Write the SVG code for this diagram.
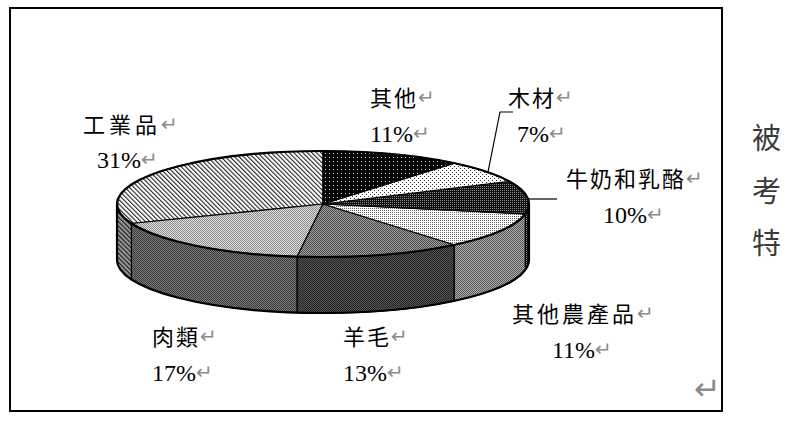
<svg xmlns="http://www.w3.org/2000/svg" width="797" height="422" viewBox="0 0 797 422">
<style>
.lbl{font-family:"Liberation Serif","Noto Sans CJK TC",serif;font-size:22px;fill:#000}
.num{font-family:"Liberation Serif","Noto Sans CJK TC",serif;font-size:24px;fill:#000}
.ret{font-family:"DejaVu Sans",sans-serif;font-size:20px;fill:#8a8a8a}
.top{stroke:#000;stroke-width:1.2;stroke-linejoin:round}
.side{stroke:#000;stroke-width:1.2;stroke-linejoin:round}
.lead{fill:none;stroke:#000;stroke-width:1.2}
.vert{font-family:"Noto Sans CJK TC","Noto Sans CJK JP",sans-serif;font-size:29px;fill:#3a3a3a}
</style>
<defs>
<pattern id="pOther" width="4" height="4" patternUnits="userSpaceOnUse"><rect width="4" height="4" fill="#050505"/><rect x="1" y="1" width="1" height="1" fill="#ddd"/></pattern>
<pattern id="pWood" width="4" height="4" patternUnits="userSpaceOnUse"><rect width="4" height="4" fill="#fff"/><rect x="0" y="0" width="1" height="1" fill="#333"/><rect x="2" y="2" width="1" height="1" fill="#333"/></pattern>
<pattern id="pMilk" width="2" height="2" patternUnits="userSpaceOnUse"><rect width="2" height="2" fill="#111"/><rect x="0" y="0" width="1" height="1" fill="#888"/></pattern>
<pattern id="pAgri" width="2" height="2" patternUnits="userSpaceOnUse"><rect width="2" height="2" fill="#fff"/><rect x="0" y="0" width="1" height="1" fill="#666"/></pattern>
<pattern id="pAgriS" width="2" height="2" patternUnits="userSpaceOnUse"><rect width="2" height="2" fill="#b0b0b0"/><rect x="0" y="0" width="1" height="1" fill="#555"/><rect x="1" y="1" width="1" height="1" fill="#555"/></pattern>
<pattern id="pWool" width="2" height="2" patternUnits="userSpaceOnUse"><rect width="2" height="2" fill="#a0a0a0"/><rect x="0" y="0" width="1" height="1" fill="#4a4a4a"/><rect x="1" y="1" width="1" height="1" fill="#4a4a4a"/></pattern>
<pattern id="pWoolS" width="2" height="2" patternUnits="userSpaceOnUse"><rect width="2" height="2" fill="#555"/><rect x="0" y="0" width="1" height="1" fill="#222"/><rect x="1" y="1" width="1" height="1" fill="#222"/></pattern>
<pattern id="pMeat" width="2" height="2" patternUnits="userSpaceOnUse"><rect width="2" height="2" fill="#e0e0e0"/><rect x="0" y="0" width="1" height="1" fill="#8a8a8a"/><rect x="1" y="1" width="1" height="1" fill="#8a8a8a"/></pattern>
<pattern id="pMeatS" width="2" height="2" patternUnits="userSpaceOnUse"><rect width="2" height="2" fill="#7a7a7a"/><rect x="0" y="0" width="1" height="1" fill="#3a3a3a"/><rect x="1" y="1" width="1" height="1" fill="#3a3a3a"/></pattern>
<pattern id="pInd" width="3.2" height="3.2" patternUnits="userSpaceOnUse" patternTransform="rotate(-45)"><rect width="3.2" height="3.2" fill="#fff"/><rect width="1.1" height="3.2" fill="#222"/></pattern>
<pattern id="pIndS" width="3.2" height="3.2" patternUnits="userSpaceOnUse" patternTransform="rotate(-45)"><rect width="3.2" height="3.2" fill="#999"/><rect width="1.2" height="3.2" fill="#222"/></pattern>
</defs>
<rect x="0" y="0" width="797" height="422" fill="#fff"/>
<rect x="10" y="8" width="712" height="403" fill="none" stroke="#000" stroke-width="2"/>

<g id="slice-industry">
<path class="side" fill="url(#pIndS)" d="M131.5,223.5 A206,53 0 0 1 117,204 L117,260 A206,53 0 0 0 131.5,279.5 Z"/>
<path class="top" fill="url(#pInd)" d="M323,204 L131.5,223.5 A206,53 0 0 1 323,151 Z"/>
</g>
<g id="slice-meat">
<path class="side" fill="url(#pMeatS)" d="M297.2,256.6 A206,53 0 0 1 131.5,223.5 L131.5,279.5 A206,53 0 0 0 297.2,312.6 Z"/>
<path class="top" fill="url(#pMeat)" d="M323,204 L297.2,256.6 A206,53 0 0 1 131.5,223.5 Z"/>
</g>
<g id="slice-wool">
<path class="side" fill="url(#pWoolS)" d="M454.3,244.8 A206,53 0 0 1 297.2,256.6 L297.2,312.6 A206,53 0 0 0 454.3,300.8 Z"/>
<path class="top" fill="url(#pWool)" d="M323,204 L454.3,244.8 A206,53 0 0 1 297.2,256.6 Z"/>
</g>
<g id="slice-agri">
<path class="side" fill="url(#pAgriS)" d="M525.4,213.9 A206,53 0 0 1 454.3,244.8 L454.3,300.8 A206,53 0 0 0 525.4,269.9 Z"/>
<path class="top" fill="url(#pAgri)" d="M323,204 L525.4,213.9 A206,53 0 0 1 454.3,244.8 Z"/>
</g>
<g id="slice-milk">
<path class="side" fill="url(#pMilk)" d="M529,204 A206,53 0 0 1 525.4,213.9 L525.4,269.9 A206,53 0 0 0 529,260 Z"/>
<path class="top" fill="url(#pMilk)" d="M323,204 L509.4,181.4 A206,53 0 0 1 525.4,213.9 Z"/>
</g>
<g id="slice-wood">
<path class="top" fill="url(#pWood)" d="M323,204 L454.3,163.2 A206,53 0 0 1 509.4,181.4 Z"/>
</g>
<g id="slice-other">
<path class="top" fill="url(#pOther)" d="M323,204 L323,151 A206,53 0 0 1 454.3,163.2 Z"/>
</g>
<g id="pie-outline" fill="none" stroke="#000" stroke-width="2.2">
<ellipse cx="323" cy="204" rx="206" ry="53"/>
<path d="M117,204 L117,260 A206,53 0 0 0 529,260 L529,204"/>
</g>

<g id="connectors">
<polyline class="lead" points="488,172 500,112 513,112"/>
<line class="lead" x1="529" y1="199" x2="557" y2="199"/>
</g>

<g id="label-other">
<text class="lbl" x="370" y="106" letter-spacing="2">其他<tspan class="ret" letter-spacing="0" dy="-2">↵</tspan></text>
<text class="num" x="370" y="142">11%<tspan class="ret" dy="-2">↵</tspan></text>
</g>
<g id="label-wood">
<text class="lbl" x="508" y="106" letter-spacing="2">木材<tspan class="ret" letter-spacing="0" dy="-2">↵</tspan></text>
<text class="num" x="517" y="142">7%<tspan class="ret" dy="-2">↵</tspan></text>
</g>
<g id="label-milk">
<text class="lbl" x="566" y="187" letter-spacing="2">牛奶和乳酪<tspan class="ret" letter-spacing="0" dy="-2">↵</tspan></text>
<text class="num" x="603" y="223">10%<tspan class="ret" dy="-2">↵</tspan></text>
</g>
<g id="label-industry">
<text class="lbl" x="83" y="133" letter-spacing="4">工業品<tspan class="ret" letter-spacing="0" dy="-2">↵</tspan></text>
<text class="num" x="97" y="168">31%<tspan class="ret" dy="-2">↵</tspan></text>
</g>
<g id="label-meat">
<text class="lbl" x="152" y="345" letter-spacing="2">肉類<tspan class="ret" letter-spacing="0" dy="-2">↵</tspan></text>
<text class="num" x="152" y="381">17%<tspan class="ret" dy="-2">↵</tspan></text>
</g>
<g id="label-wool">
<text class="lbl" x="343" y="345" letter-spacing="2">羊毛<tspan class="ret" letter-spacing="0" dy="-2">↵</tspan></text>
<text class="num" x="343" y="381">13%<tspan class="ret" dy="-2">↵</tspan></text>
</g>
<g id="label-agri">
<text class="lbl" x="512" y="322" letter-spacing="3">其他農產品<tspan class="ret" letter-spacing="0" dy="-2">↵</tspan></text>
<text class="num" x="552" y="358">11%<tspan class="ret" dy="-2">↵</tspan></text>
</g>
<text x="694" y="400" font-family="DejaVu Sans,sans-serif" font-size="32" fill="#8a8a8a">↵</text>

<g id="side-text">
<text class="vert" x="752" y="149">被</text>
<text class="vert" x="752" y="202">考</text>
<text class="vert" x="752" y="254">特</text>
</g>
</svg>
